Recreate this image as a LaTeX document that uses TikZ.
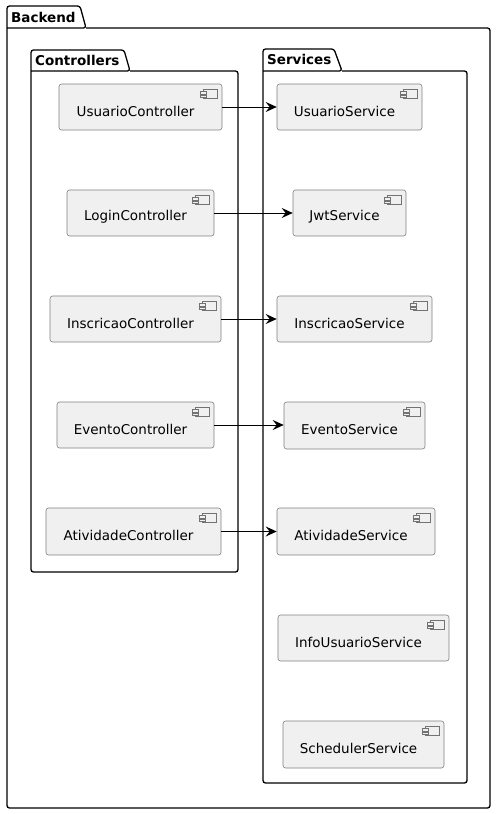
\documentclass[tikz,border=0pt]{standalone}
\usepackage{fontspec}
\setmainfont{DejaVu Sans}
\usetikzlibrary{arrows.meta}
\begin{document}
\begin{tikzpicture}[x=1pt,y=-1pt,
  pkg/.style={draw=black,line width=1.3pt,rounded corners=2.5pt},
  pkgtitle/.style={anchor=west,inner sep=0pt,font=\fontsize{13.5}{16}\selectfont\bfseries},
  comp/.style={draw=black!50,line width=0.6pt,fill=black!6,rounded corners=2.5pt,inner sep=0pt},
  comptext/.style={inner sep=0pt,font=\fontsize{13.5}{16}\selectfont},
  icon/.style={draw=black!55,line width=0.5pt,fill=black!6},
  conn/.style={draw=black,line width=0.9pt,-{Stealth[length=11pt,width=10pt,inset=4pt]}}
]
\useasboundingbox (0,0) rectangle (496,814);
% Backend package
\draw[pkg] (86,28) -- (490,28) -- (490,808) -- (7,808) -- (7,6) -- (80,6) -- (86,28) -- (7,28);
\node[pkgtitle] (tb) at (11,17.5) {Backend};
% Controllers package
\draw[pkg] (130,71) -- (238,71) -- (238,572) -- (31,572) -- (31,50) -- (124,50) -- (130,71) -- (31,71);
\node[pkgtitle] (tc) at (35,60.5) {Controllers};
% Services package
\draw[pkg] (342,71) -- (467,71) -- (467,783) -- (263,783) -- (263,49) -- (334,49) -- (342,71) -- (263,71);
\node[pkgtitle] (ts) at (267,59.5) {Services};

\newcommand{\compnode}[6]{%
  \node[comp,minimum width=#4,minimum height=#5] (#1) at (#2,#3) {};
  \node[comptext] (#1t) at ([xshift=-5pt,yshift=-4pt]#1.center) {#6};
  \draw[icon] ([xshift=-19pt,yshift=-6pt]#1.north east) rectangle ([xshift=-5pt,yshift=-15pt]#1.north east);
  \draw[icon] ([xshift=-22pt,yshift=-8pt]#1.north east) rectangle ([xshift=-16pt,yshift=-10.5pt]#1.north east);
  \draw[icon] ([xshift=-22pt,yshift=-11.5pt]#1.north east) rectangle ([xshift=-16pt,yshift=-14pt]#1.north east);
}
% Controllers
\compnode{uc}{140.5}{107}{163}{46}{UsuarioController}
\compnode{lc}{140.5}{213}{147}{46}{LoginController}
\compnode{ic}{135.5}{319}{171}{46}{InscricaoController}
\compnode{ec}{135.5}{425}{157}{46}{EventoController}
\compnode{ac}{133.5}{531.5}{175}{47}{AtividadeController}
% Services
\compnode{us}{349.5}{107}{145}{46}{UsuarioService}
\compnode{js}{349.5}{213}{113}{46}{JwtService}
\compnode{is}{354.5}{319}{155}{46}{InscricaoService}
\compnode{es}{354.5}{425.5}{141}{47}{EventoService}
\compnode{as}{356}{531.5}{158}{47}{AtividadeService}
\compnode{ius}{363.5}{638}{171}{46}{InfoUsuarioService}
\compnode{ss}{363.5}{744.5}{161}{47}{SchedulerService}
% connectors
\draw[conn] (uc.east) -- (uc.east -| us.west);
\draw[conn] (lc.east) -- (lc.east -| js.west);
\draw[conn] (ic.east) -- (ic.east -| is.west);
\draw[conn] (ec.east) -- (ec.east -| es.west);
\draw[conn] (ac.east) -- (ac.east -| as.west);
\end{tikzpicture}
\end{document}
